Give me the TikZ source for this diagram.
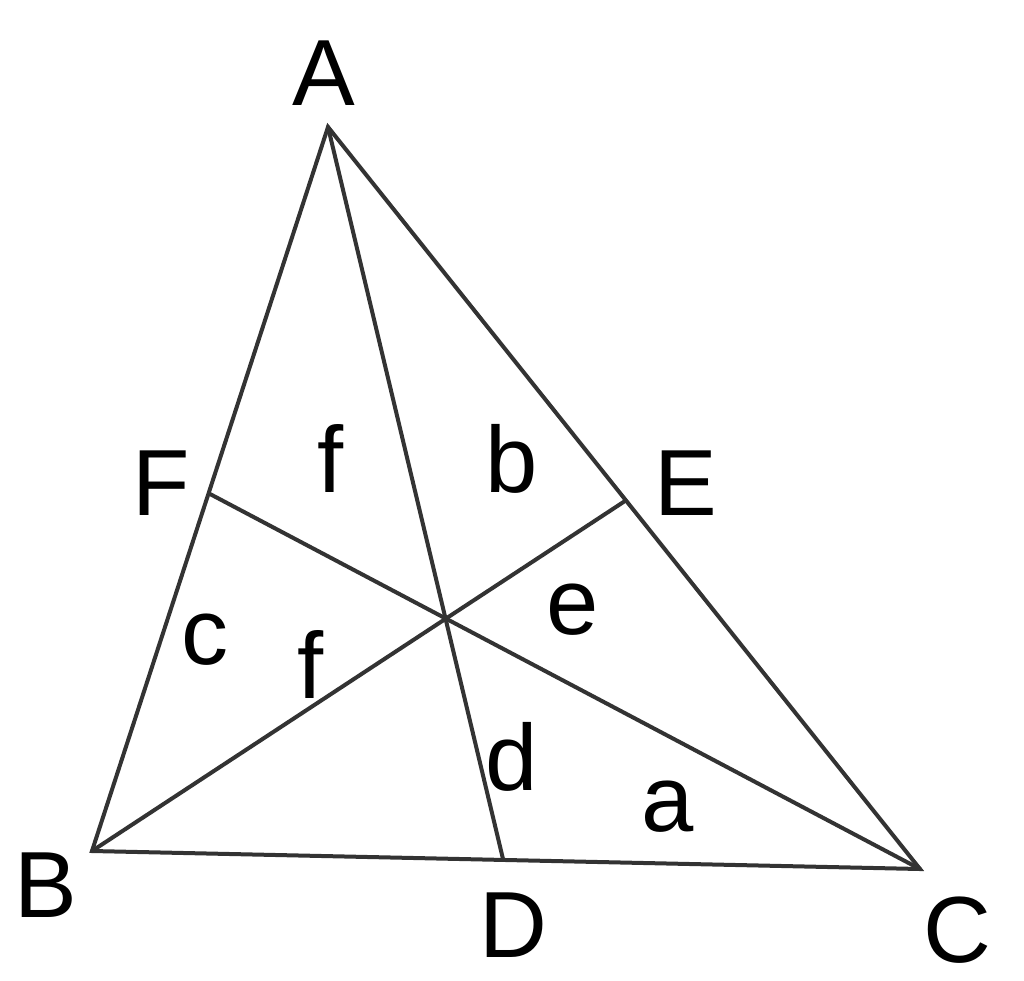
\documentclass[tikz,border=0pt]{standalone}
\usepackage{fontspec}
\setmainfont{Liberation Sans}
\begin{document}
\begin{tikzpicture}[x=1pt,y=-1pt,
  edge/.style={draw=black!80, line width=4pt, line join=miter, line cap=round},
  lbl/.style={inner sep=0pt, anchor=base, font=\fontsize{94}{110}\selectfont}]
\useasboundingbox (0,0) rectangle (1024,980);
\coordinate (A) at (328,127);
\coordinate (B) at (92,851);
\coordinate (C) at (920,869);
\coordinate (D) at (503,859);
\coordinate (E) at (625,501);
\coordinate (F) at (210,494);
\draw[edge] (A) -- (B) -- (C) -- cycle;
\draw[edge] (A) -- (D);
\draw[edge] (B) -- (E);
\draw[edge] (C) -- (F);
\node[lbl] (lA) at (324,105) {A};
\node[lbl] (lB) at (46,917) {B};
\node[lbl] (lC) at (957,962) {C};
\node[lbl] (lD) at (513,957) {D};
\node[lbl] (lE) at (686,515) {E};
\node[lbl] (lF) at (161,515) {F};
\node[lbl] (f1) at (331,492) {f};
\node[lbl] (b) at (512,492) {b};
\node[lbl] (e) at (573,634) {e};
\node[lbl] (c) at (205,664) {c};
\node[lbl] (f2) at (311,698) {f};
\node[lbl] (d) at (512,790) {d};
\node[lbl] (a) at (668,831) {a};
\end{tikzpicture}
\end{document}
